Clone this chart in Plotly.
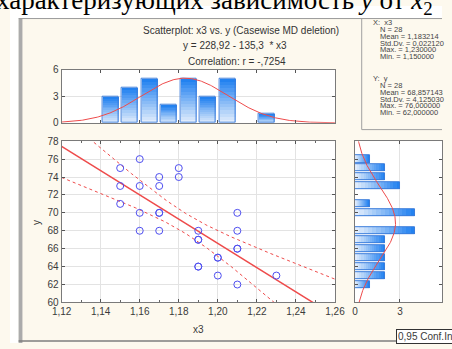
import numpy as np
import plotly.graph_objects as go

# ---------------- data ----------------
x3_values = [1.15, 1.15, 1.15,
             1.16, 1.16, 1.16, 1.16,
             1.17, 1.17, 1.17, 1.17, 1.17,
             1.18, 1.18,
             1.19, 1.19, 1.19, 1.19, 1.19,
             1.20, 1.20, 1.20,
             1.21, 1.21, 1.21, 1.21, 1.21,
             1.23]
y_values = [75, 73, 71,
            76, 73, 70, 68,
            74, 73, 70, 70, 68,
            75, 74,
            68, 67, 67, 64, 64,
            65, 65, 63,
            70, 68, 66, 66, 62,
            63]
x_tick_values = [1.12, 1.14, 1.16, 1.18, 1.20, 1.22, 1.24, 1.26]
y_tick_values = [60, 62, 64, 66, 68, 70, 72, 74, 76, 78]
title_lines = ["Scatterplot: x3 vs. y (Casewise MD deletion)",
               "y = 228,92 - 135,3  * x3",
               "Correlation: r = -,7254"]
top_text = "характеризующих зависимость <i>y</i> от <i>x</i><sub>2</sub>"
t_crit_95 = 2.0555  # t(0.975, df=26)
x_bin_width = 0.01
y_bin_width = 1.0

x = np.array(x3_values)
y = np.array(y_values)
n = len(x)

# regression + 95% confidence band of the mean
slope, intercept = np.polyfit(x, y, 1)
xs = np.linspace(1.12, 1.26, 200)
yhat = intercept + slope * xs
resid = y - (intercept + slope * x)
s = np.sqrt(np.sum(resid ** 2) / (n - 2))
sxx = np.sum((x - x.mean()) ** 2)
half = t_crit_95 * s * np.sqrt(1 / n + (xs - x.mean()) ** 2 / sxx)

# histograms (STATISTICA bins are (a, b])
xu, xc = np.unique(x, return_counts=True)
x_centers = xu - x_bin_width / 2
yu, yc = np.unique(y, return_counts=True)

mx, sdx = x.mean(), x.std(ddof=1)
my, sdy = y.mean(), y.std(ddof=1)
xn = np.linspace(1.12, 1.26, 300)
xn_pdf = n * x_bin_width * np.exp(-0.5 * ((xn - mx) / sdx) ** 2) / (sdx * np.sqrt(2 * np.pi))
yn = np.linspace(60, 78, 300)
yn_pdf = n * y_bin_width * np.exp(-0.5 * ((yn - my) / sdy) ** 2) / (sdy * np.sqrt(2 * np.pi))

# ---------------- geometry helpers ----------------
W, H = 452, 349
def px(v):
    return v / W
def py(v):
    return 1 - v / H

CREAM = "#FDF9EE"
FRAME = "#7A7A7A"
GRID = "#E3E3E3"
TICKFONT = dict(family="Liberation Sans, Arial, sans-serif", size=10, color="#3A3A3A")
RED = "#EE4B4B"
light = np.array([232, 241, 253])
dark = np.array([28, 126, 240])
K = 14

fig = go.Figure()

# gradient bars: top histogram (vertical)
bx, bbase, bh, bcol = [], [], [], []
for k in range(K):
    c = light + (dark - light) * (k + 0.5) / K
    col = "rgb(%d,%d,%d)" % tuple(c.astype(int))
    for cx, h in zip(x_centers, xc):
        bx.append(cx); bbase.append(h * k / K); bh.append(h / K); bcol.append(col)
fig.add_trace(go.Bar(x=bx, y=bh, base=bbase, width=0.0082, marker=dict(color=bcol, line=dict(width=0)),
                     xaxis="x2", yaxis="y2", showlegend=False, hoverinfo="skip"))
fig.add_trace(go.Bar(x=x_centers, y=xc, base=0, width=0.0082,
                     marker=dict(color="rgba(0,0,0,0)", line=dict(color="#3B7DDB", width=1)),
                     xaxis="x2", yaxis="y2", showlegend=False))
fig.add_trace(go.Scatter(x=xn, y=xn_pdf, mode="lines", line=dict(color=RED, width=1),
                         xaxis="x2", yaxis="y2", showlegend=False))

# gradient bars: right histogram (horizontal)
ry, rbase, rw, rcol = [], [], [], []
for k in range(K):
    c = light + (dark - light) * (k + 0.5) / K
    col = "rgb(%d,%d,%d)" % tuple(c.astype(int))
    for cy, h in zip(yu, yc):
        ry.append(cy); rbase.append(h * k / K); rw.append(h / K); rcol.append(col)
fig.add_trace(go.Bar(y=ry, x=rw, base=rbase, width=0.8, orientation="h",
                     marker=dict(color=rcol, line=dict(width=0)),
                     xaxis="x3", yaxis="y3", showlegend=False, hoverinfo="skip"))
fig.add_trace(go.Bar(y=yu, x=yc, base=0, width=0.8, orientation="h",
                     marker=dict(color="rgba(0,0,0,0)", line=dict(color="#3B7DDB", width=1)),
                     xaxis="x3", yaxis="y3", showlegend=False))
fig.add_trace(go.Scatter(x=yn_pdf, y=yn, mode="lines", line=dict(color=RED, width=1),
                         xaxis="x3", yaxis="y3", showlegend=False))

# scatter with regression and confidence band
fig.add_trace(go.Scatter(x=xs, y=yhat + half, mode="lines", line=dict(color=RED, width=1, dash="dot"),
                         showlegend=False))
fig.add_trace(go.Scatter(x=xs, y=yhat - half, mode="lines", line=dict(color=RED, width=1, dash="dot"),
                         showlegend=False))
fig.add_trace(go.Scatter(x=xs, y=yhat, mode="lines", line=dict(color=RED, width=1.5), showlegend=False))
fig.add_trace(go.Scatter(x=x, y=y, mode="markers",
                         marker=dict(symbol="circle-open", size=7, color="#4F4FF0", line=dict(width=1)),
                         showlegend=False))

axis_common = dict(showline=True, linecolor=FRAME, linewidth=1, mirror="ticks", zeroline=False,
                   tickfont=TICKFONT, ticks="inside", ticklen=3, tickcolor="#555",
                   gridcolor=GRID, gridwidth=1)
minor_x = dict(ticks="inside", dtick=0.01, tick0=1.12, ticklen=2, tickcolor="#666", showgrid=False)

sc_x = [px(54), px(340)]
sc_y = [py(307), py(140)]
fig.update_layout(
    width=W, height=H, margin=dict(l=0, r=0, t=0, b=0),
    paper_bgcolor=CREAM, plot_bgcolor="white", separators=", ",
    barmode="overlay", bargap=0,
    font=dict(family="Liberation Sans, Arial, sans-serif", color="#333"),
    xaxis=dict(domain=sc_x, range=[1.12, 1.26], tickvals=x_tick_values, tickformat=".2f",
               anchor="y", showgrid=True, minor=minor_x, **axis_common),
    yaxis=dict(domain=sc_y, range=[60, 78], tickvals=y_tick_values, anchor="x", showgrid=True, **axis_common),
    xaxis2=dict(domain=sc_x, range=[1.12, 1.26], tickvals=x_tick_values, showticklabels=False,
                anchor="y2", showgrid=False, **axis_common),
    yaxis2=dict(domain=[py(121), py(66)], range=[0, 6], tickvals=[0, 3, 6], anchor="x2",
                showgrid=True, **axis_common),
    xaxis3=dict(domain=[px(361), 1.0], range=[0, 5.81], tickvals=[0, 3], anchor="y3",
                showgrid=True, **axis_common),
    yaxis3=dict(domain=sc_y, range=[60, 78], tickvals=y_tick_values, showticklabels=False,
                anchor="x3", showgrid=False, **axis_common),
)

shapes = [
    dict(type="rect", xref="paper", yref="paper", x0=0, x1=1, y0=py(13), y1=1,
         fillcolor="white", line=dict(width=0)),
    dict(type="rect", xref="paper", yref="paper", x0=0, x1=px(9), y0=0, y1=1,
         fillcolor="white", line=dict(width=0)),
    dict(type="rect", xref="paper", yref="paper", x0=px(9), x1=px(13), y0=0, y1=py(13),
         fillcolor="#ABABAB", line=dict(width=0)),
    dict(type="line", xref="paper", yref="paper", x0=px(9), x1=1, y0=py(13), y1=py(13),
         line=dict(color="#9A9A9A", width=1)),
    dict(type="line", xref="paper", yref="paper", x0=px(9), x1=1, y0=py(347), y1=py(347),
         line=dict(color="#7E7E7E", width=1.5)),
    dict(type="line", xref="paper", yref="paper", x0=px(368), x1=px(368), y0=py(128), y1=py(13),
         line=dict(color="#A0A0A0", width=1)),
    dict(type="line", xref="paper", yref="paper", x0=px(368), x1=1, y0=py(128), y1=py(128),
         line=dict(color="#A0A0A0", width=1)),
]
fig.update_layout(shapes=shapes)

ann = []
ann.append(dict(text=top_text, x=px(445), y=py(-4.5), xref="paper", yref="paper", xanchor="right",
                yanchor="middle", showarrow=False,
                font=dict(family="Liberation Serif, Times New Roman, serif", size=27, color="black")))
for txt, cx, cy in zip(title_lines, [242, 235, 238], [25, 41, 57]):
    ann.append(dict(text=txt, x=px(cx), y=py(cy), xref="paper", yref="paper", xanchor="center",
                    yanchor="middle", showarrow=False,
                    font=dict(family="Liberation Sans, Arial, sans-serif", size=10, color="#333")))

def fmt(v):
    return ("%.6f" % v).replace(".", ",")

stat_rows = [("X:  x3", 379), ("N = %d" % n, 386), ("Mean = " + fmt(mx), 386),
             ("Std.Dv. = " + fmt(sdx), 386), ("Max. = " + fmt(x.max()), 386),
             ("Min. = " + fmt(x.min()), 386),
             ("Y:  y", 379), ("N = %d" % n, 386), ("Mean = " + fmt(my), 386),
             ("Std.Dv. = " + fmt(sdy), 386), ("Max. = " + fmt(y.max()), 386),
             ("Min. = " + fmt(y.min()), 386)]
for i, (txt, sx) in enumerate(stat_rows):
    sy = (17.5 + 7 * i) if i < 6 else (75.5 + 7 * (i - 6))
    ann.append(dict(text=txt, x=px(sx), y=py(sy), xref="paper", yref="paper", xanchor="left",
                    yanchor="middle", showarrow=False, borderpad=0,
                    font=dict(family="Liberation Sans, Arial, sans-serif", size=7.5, color="#444")))

ann.append(dict(text="x3", x=px(197), y=py(335), xref="paper", yref="paper", showarrow=False,
                xanchor="center", yanchor="middle", font=TICKFONT))
ann.append(dict(text="y", x=px(27), y=py(224), xref="paper", yref="paper", showarrow=False,
                textangle=-90, xanchor="center", yanchor="middle", font=TICKFONT))
ann.append(dict(text="0,95 Conf.Int.", x=px(404), y=py(342), xref="paper", yref="paper",
                showarrow=False, xanchor="left", yanchor="middle", bgcolor="#FFFFFF",
                bordercolor="#333", borderwidth=1, borderpad=1, font=TICKFONT))
fig.update_layout(annotations=ann)

clip_js = ("document.body.style.margin='0';"
           "document.documentElement.style.overflow='hidden';"
           "document.body.style.overflow='hidden';"
           "var gd=document.getElementById('{plot_id}');"
           "gd.style.overflow='hidden';"
           "gd.querySelectorAll('svg').forEach(function(s){s.style.overflow='hidden';});")
fig.write_html("out.html", config={"displayModeBar": False}, post_script=clip_js)
